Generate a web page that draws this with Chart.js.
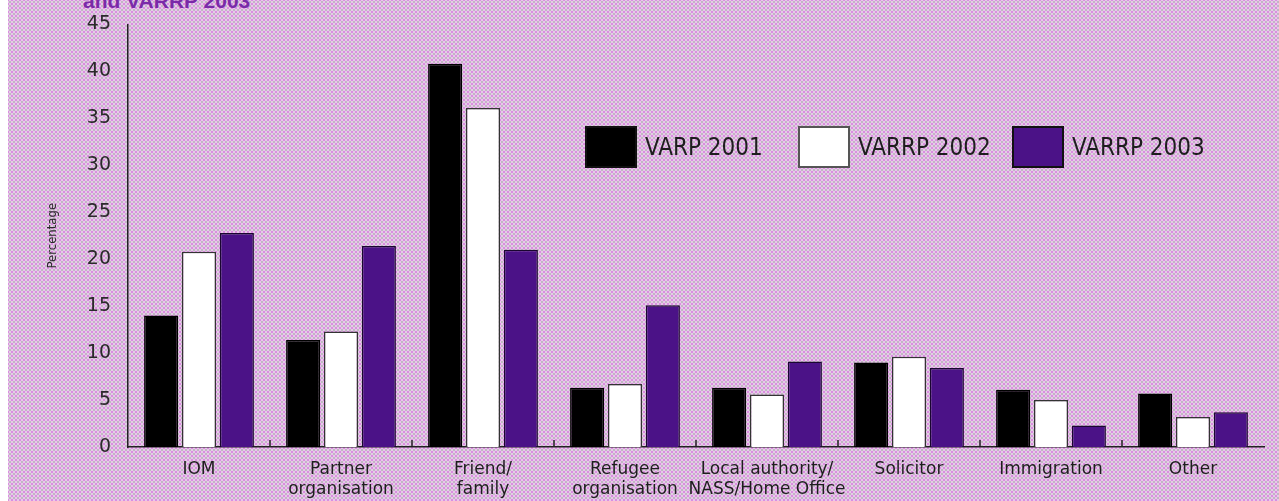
<!DOCTYPE html>
<html>
<head>
<meta charset="utf-8">
<script src="https://cdn.jsdelivr.net/npm/chart.js@4.4.1/dist/chart.umd.min.js"></script>
<style>
  html, body { margin: 0; padding: 0; background: #ffffff; }
  #wrap { position: relative; width: 1279px; height: 501px; overflow: hidden; }
  #bg {
    position: absolute; left: 8px; top: 0; width: 1271px; height: 501px;
    background-color: #e6cae8;
    background-image:
      radial-gradient(circle, #c2b4c4 0.9px, transparent 1.4px),
      radial-gradient(circle, #da8ee0 0.9px, transparent 1.4px);
    background-size: 4px 4px, 4px 4px;
    background-position: 0 0, 2px 2px;
  }
  #title {
    position: absolute; left: 83px; top: -11px;
    font: bold 21px "Liberation Sans", Arial, sans-serif;
    color: #7a2aa8; white-space: nowrap; line-height: 24px;
  }
  canvas { position: absolute; left: 0; top: -4px; }
  .lg { position: absolute; top: 126px; display: flex; align-items: center; }
  .lg .box { width: 52px; height: 42px; box-sizing: border-box; border: 2px solid #222; }
  .lg .txt { margin-left: 8px; font: 24px "DejaVu Sans Condensed", "DejaVu Sans", sans-serif; color: #1e1e1e; }
</style>
</head>
<body>
<div id="wrap">
  <div id="bg"></div>
  <div id="title">and VARRP 2003</div>
  <canvas id="c" width="1279" height="505"></canvas>
</div>
<script>
const categories = ['IOM', ['Partner', 'organisation'], ['Friend/', 'family'], ['Refugee', 'organisation'],
  ['Local authority/', 'NASS/Home Office'], 'Solicitor', 'Immigration', 'Other'];
const seriesNames = ['VARP 2001', 'VARRP 2002', 'VARRP 2003'];
const varp2001  = [14.0, 11.4, 40.8, 6.3, 6.3, 9.0, 6.1, 5.7];
const varrp2002 = [20.8, 12.3, 36.1, 6.7, 5.6, 9.6, 5.0, 3.2];
const varrp2003 = [22.8, 21.4, 21.0, 15.1, 9.1, 8.4, 2.3, 3.7];
const yTickMin = 0, yTickMax = 45, yTickStep = 5;

const fills = ['#000000', '#ffffff', '#4b1287'];
const borders = ['#000000', '#333333', '#1a0630'];
const legendLeft = [585, 798, 1012];

const innerTicks = {
  id: 'innerTicks',
  afterDraw(chart) {
    const x = chart.scales.x, ctx = chart.ctx, bottom = chart.chartArea.bottom;
    ctx.save();
    ctx.strokeStyle = '#222';
    ctx.lineWidth = 1.5;
    for (let i = 0; i < categories.length - 1; i++) {
      const px = (x.getPixelForValue(i) + x.getPixelForValue(i + 1)) / 2;
      ctx.beginPath();
      ctx.moveTo(px, bottom);
      ctx.lineTo(px, bottom - 7);
      ctx.stroke();
    }
    ctx.restore();
  }
};

const chart = new Chart(document.getElementById('c'), {
  type: 'bar',
  data: {
    labels: categories,
    datasets: [varp2001, varrp2002, varrp2003].map((d, i) => ({
      label: seriesNames[i], data: d,
      backgroundColor: fills[i], borderColor: borders[i], borderWidth: 1.5,
      categoryPercentage: 0.8, barPercentage: 0.9
    }))
  },
  options: {
    responsive: false, animation: false,
    layout: { padding: { left: 45, right: 15, top: 12, bottom: 0 } },
    plugins: { legend: { display: false }, tooltip: { enabled: false } },
    scales: {
      x: {
        grid: { display: false, drawTicks: false },
        border: { display: true, color: '#222', width: 1.5 },
        ticks: { color: '#1e1e1e', padding: 12, maxRotation: 0, autoSkip: false,
          font: { family: 'DejaVu Sans', size: 17, lineHeight: 1.2 } },
        afterFit(s) { s.height = 54; }
      },
      y: {
        min: yTickMin, max: yTickMax,
        grid: { display: false, drawTicks: false },
        border: { display: true, color: '#222', width: 1.5 },
        ticks: { stepSize: yTickStep, color: '#2a2a2a', padding: 17,
          font: { family: 'DejaVu Sans', size: 19 } },
        title: { display: true, text: 'Percentage', color: '#2a2a2a', padding: 0,
          font: { family: 'DejaVu Sans Condensed', size: 13 } },
        afterFit(s) { s.width = 83; }
      }
    }
  },
  plugins: [innerTicks]
});

const wrap = document.getElementById('wrap');
chart.data.datasets.forEach((ds, i) => {
  const item = document.createElement('div');
  item.className = 'lg';
  item.style.left = legendLeft[i] + 'px';
  const box = document.createElement('div');
  box.className = 'box';
  box.style.background = ds.backgroundColor;
  box.style.borderColor = i === 1 ? '#555' : '#111';
  const txt = document.createElement('span');
  txt.className = 'txt';
  txt.textContent = ds.label;
  item.appendChild(box); item.appendChild(txt);
  wrap.appendChild(item);
});
</script>
</body>
</html>
